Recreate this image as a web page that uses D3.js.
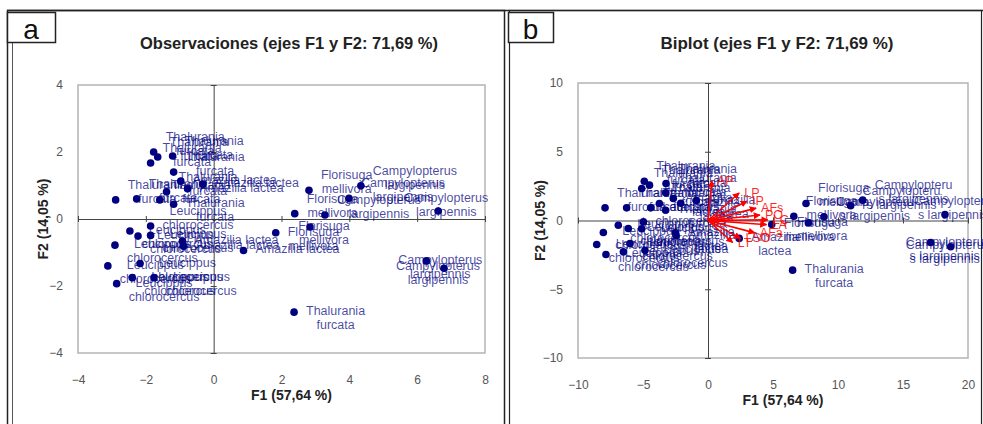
<!DOCTYPE html>
<html><head><meta charset="utf-8">
<script src="https://cdn.jsdelivr.net/npm/d3@7"></script>
<style>body{margin:0;background:#fff;} svg{display:block;font-family:Arial,"Liberation Sans",sans-serif;}</style>
</head><body><svg id="c" width="983" height="424"></svg>
<script>
// ---------- data ----------
const species = [
 "Thalurania furcata","Thalurania furcata","Thalurania furcata","Thalurania furcata","Thalurania furcata",
 "Amazilia lactea","Amazilia lactea","Amazilia lactea",
 "Thalurania furcata","Thalurania furcata","Thalurania furcata","Thalurania furcata","Thalurania furcata",
 "Leucippus chlorocercus","Leucippus chlorocercus","Leucippus chlorocercus","Leucippus chlorocercus","Leucippus chlorocercus",
 "Amazilia lactea","Amazilia lactea","Amazilia lactea",
 "Leucippus chlorocercus","Leucippus chlorocercus","Leucippus chlorocercus","Leucippus chlorocercus","Leucippus chlorocercus",
 "Florisuga mellivora","Florisuga mellivora",
 "Campylopterus largipennis","Campylopterus largipennis",
 "Florisuga mellivora","Campylopterus largipennis","Florisuga mellivora",
 "Campylopterus largipennis","Campylopterus largipennis","Campylopterus largipennis",
 "Thalurania furcata"
];
// panel a: observation scores
const f1A = [-2.89,-2.27,-1.59,-1.18,-1.39,-0.97,-0.77,-0.32,-1.18,-1.21,-1.86,-1.77,-1.65,
 -1.86,-2.47,-2.23,-1.86,-2.91,-0.92,-0.89,0.88,-3.12,-2.17,-2.40,-1.76,-2.86,
 1.83,2.81,4.34,3.99,2.39,3.28,2.84,6.62,6.27,6.79,2.37];
const f2A = [0.57,0.60,0.57,0.44,0.81,1.13,0.90,1.04,1.40,1.88,1.67,2.00,1.85,
 -0.21,-0.36,-0.51,-0.49,-0.78,-0.66,-0.81,-0.94,-1.40,-1.33,-1.75,-1.75,-1.93,
 -0.41,0.86,0.99,0.62,0.16,0.12,-0.24,0.24,-1.25,-1.47,-2.78];
// panel b: biplot scores
const f1B = [-7.92,-6.26,-4.41,-3.26,-3.74,-2.67,-2.10,-0.90,-3.25,-3.23,-5.10,-4.90,-4.50,
 -4.97,-6.90,-6.13,-5.10,-8.05,-2.50,-2.45,2.40,-8.56,-6.00,-6.51,-4.85,-7.85,
 4.90,7.54,11.90,10.97,6.60,8.92,7.72,18.23,17.13,18.67,6.51];
const f2B = [0.92,0.92,0.92,0.75,1.24,1.60,1.25,1.45,2.01,2.69,2.33,2.86,2.57,
 -0.10,-0.34,-0.58,-0.60,-0.87,-0.90,-1.10,-1.30,-1.75,-1.67,-2.28,-2.16,-2.47,
 -0.29,1.24,1.48,1.07,0.31,0.27,-0.17,0.44,-1.60,-1.91,-3.61];
const labelPlace = ["ne","ne","ne","e","ne","e","e","e","ne","ne","ne","ne","ne",
 "ne","e","e","e","e","e","e","e","e","e","e","e","e",
 "e","ne","ne","ne","ne","ne","c","n","c","cl","e"];
// variables (arrows)
const varNames = ["AP","LP","IP","AFs","PO","LC","LA","AFa","LSO","LT"];
const varF1 = [0.3,2.4,3.0,3.7,4.0,4.6,4.5,3.6,2.5,1.9];
const varF2 = [2.9,2.0,1.4,0.9,0.4,0.05,-0.3,-0.9,-1.3,-1.6];
const xTicksA = [-4,-2,0,2,4,6,8], yTicksA = [-4,-2,0,2,4];
const xTicksB = [-10,-5,0,5,10,15,20], yTicksB = [-10,-5,0,5,10];
const titleA = "Observaciones (ejes F1 y F2: 71,69 %)";
const titleB = "Biplot (ejes F1 y F2: 71,69 %)";
const xTitle = "F1 (57,64 %)", yTitle = "F2 (14,05 %)";
const panelLetters = ["a","b"];

// ---------- drawing ----------
const svg = d3.select("#c");
const LABEL_FONT = 12.5;
const ctx = document.createElement("canvas").getContext("2d");
ctx.font = LABEL_FONT + "px Arial";
const tw = s => ctx.measureText(s).width;

function wrap(text, maxW){
  const words = text.split(" "); const lines = []; let cur = "";
  for (let w of words){
    const cand = cur ? cur + " " + w : w;
    if (tw(cand) <= maxW){ cur = cand; continue; }
    if (cur){ lines.push(cur); cur = ""; }
    while (tw(w) > maxW){
      let k = w.length; while (k > 1 && tw(w.slice(0,k)) > maxW) k--;
      lines.push(w.slice(0,k)); w = w.slice(k);
    }
    cur = w;
  }
  if (cur) lines.push(cur);
  return lines;
}
const place = {
  e:  {dx: 12, dy0: 3,   mode: "left"},
  ne: {dx: 12, dy0: -11, mode: "left"},
  n:  {dx: 8,  dy0: -9,  mode: "center"},
  c:  {dx: 14, dy0: 3,   mode: "center"},
  cl: {dx: -6, dy0: 2,   mode: "center"}
};

// frames
svg.append("line").attr("x1",7).attr("x2",983).attr("y1",10.5).attr("y2",10.5).attr("stroke","#222").attr("stroke-width",1.5);
svg.append("rect").attr("x",7.5).attr("y",10.5).attr("width",497).attr("height",430).attr("fill","none").attr("stroke","#222").attr("stroke-width",1.5);
svg.append("rect").attr("x",509.5).attr("y",10.5).attr("width",472).attr("height",430).attr("fill","none").attr("stroke","#222").attr("stroke-width",1.2);
svg.append("line").attr("x1",12.5).attr("x2",12.5).attr("y1",42).attr("y2",424).attr("stroke","#555").attr("stroke-width",1);

function panel(cfg){
  const x = d3.scaleLinear().domain(cfg.xDom).range(cfg.xRange);
  const y = d3.scaleLinear().domain(cfg.yDom).range(cfg.yRange);
  const g = svg.append("g");
  // letter box
  g.append("rect").attr("x",cfg.box[0]+0.5).attr("y",12.5).attr("width",cfg.box[1]).attr("height",30)
    .attr("fill","#fff").attr("stroke","#222").attr("stroke-width",1.5);
  g.append("text").attr("x",cfg.box[0]+cfg.box[1]/2).attr("y",39).attr("text-anchor","middle")
    .attr("font-size",28).attr("fill","#111").text(cfg.letter);
  // title
  g.append("text").attr("x",cfg.titleX).attr("y",49).attr("text-anchor","middle")
    .attr("font-size",16.5).attr("font-weight","bold").attr("fill","#222")
    .attr("textLength",cfg.titleW).attr("lengthAdjust","spacingAndGlyphs").text(cfg.title);
  // plot box
  const [x0,x1] = cfg.xRange, [y0,y1] = [cfg.yRange[1], cfg.yRange[0]];
  g.append("rect").attr("x",x0).attr("y",y0).attr("width",x1-x0).attr("height",y1-y0)
    .attr("fill","none").attr("stroke","#b4b4b4").attr("stroke-width",1.5);
  // tick labels
  const ax = g.append("g").attr("transform",`translate(0,${y1})`)
    .call(d3.axisBottom(x).tickValues(cfg.xTicks).tickSize(0).tickPadding(22).tickFormat(d3.format("d")));
  const ay = g.append("g").attr("transform",`translate(${x0},0)`)
    .call(d3.axisLeft(y).tickValues(cfg.yTicks).tickSize(0).tickPadding(15).tickFormat(d3.format("d")));
  [ax,ay].forEach(a=>{ a.select(".domain").remove();
    a.selectAll("text").attr("font-size",12).attr("fill","#555").attr("font-family","Arial"); });
  // center axes with crossing ticks
  const cx = g.append("g").attr("transform",`translate(0,${y(0)})`)
    .call(d3.axisBottom(x).tickValues(cfg.xTicks).tickSize(6).tickSizeOuter(0).tickFormat(""));
  cx.selectAll(".tick line").attr("y1",-3).attr("y2",3);
  const cy = g.append("g").attr("transform",`translate(${x(0)},0)`)
    .call(d3.axisLeft(y).tickValues(cfg.yTicks).tickSize(6).tickSizeOuter(0).tickFormat(""));
  cy.selectAll(".tick line").attr("x1",-3).attr("x2",3);
  [cx,cy].forEach(a=>{ a.select(".domain").attr("stroke","#444"); a.selectAll(".tick line").attr("stroke","#444"); });
  // axis titles
  g.append("text").attr("x",(x0+x1)/2+10).attr("y",cfg.xTitleY).attr("text-anchor","middle")
    .attr("font-size",14).attr("font-weight","bold").attr("fill","#222").text(xTitle);
  g.append("text").attr("transform",`translate(${cfg.yTitleX},${(y0+y1)/2}) rotate(-90)`)
    .attr("text-anchor","middle").attr("font-size",14).attr("font-weight","bold").attr("fill","#222").text(yTitle);
  // points
  const data = species.map((s,i)=>({s, a:cfg.f1[i], b:cfg.f2[i], p:labelPlace[i]}));
  g.append("g").selectAll("circle").data(data).join("circle")
    .attr("cx",d=>x(d.a)).attr("cy",d=>y(d.b)).attr("r",3.8).attr("fill","#000080");
  // labels
  const lg = g.append("g").attr("font-size",LABEL_FONT).attr("fill","#000080").attr("fill-opacity",0.72);
  data.forEach(d=>{
    const lines = wrap(d.s, cfg.wrapW); const P = place[d.p];
    const bw = d3.max(lines, tw);
    const px = x(d.a), py = y(d.b);
    const c = P.mode === "left" ? px + P.dx + bw/2 : px + P.dx;
    const t = lg.append("text").attr("text-anchor","middle");
    lines.forEach((l,k)=> t.append("tspan").attr("x",c).attr("y",py + P.dy0 + k*14).text(l));
  });
  return {x,y,g};
}

panel({letter:panelLetters[0], box:[7,48], title:titleA, titleX:289, titleW:298,
  xDom:[-4,8], yDom:[-4,4], xRange:[78,485], yRange:[353,85], xTicks:xTicksA, yTicks:yTicksA,
  f1:f1A, f2:f2A, wrapW:90, xTitleY:400, yTitleX:48});
const pb = panel({letter:panelLetters[1], box:[508,45], title:titleB, titleX:777, titleW:233,
  xDom:[-10,20], yDom:[-10,10], xRange:[578,968], yRange:[358,83], xTicks:xTicksB, yTicks:yTicksB,
  f1:f1B, f2:f2B, wrapW:80, xTitleY:405, yTitleX:545});

// variable arrows on biplot
const defs = svg.append("defs");
defs.append("marker").attr("id","arr").attr("viewBox","0 0 10 10").attr("refX",9).attr("refY",5)
  .attr("markerWidth",7).attr("markerHeight",7).attr("markerUnits","userSpaceOnUse").attr("orient","auto")
  .append("path").attr("d","M0,0L10,5L0,10Z").attr("fill","#ff0000");
const vg = pb.g.append("g");
const vars = varNames.map((n,i)=>({n, a:varF1[i], b:varF2[i]}));
vg.selectAll("line").data(vars).join("line")
  .attr("x1",pb.x(0)).attr("y1",pb.y(0)).attr("x2",d=>pb.x(d.a)).attr("y2",d=>pb.y(d.b))
  .attr("stroke","#ff0000").attr("stroke-width",1.6).attr("marker-end","url(#arr)");
vg.selectAll("text").data(vars).join("text")
  .attr("x",d=>pb.x(d.a)+5).attr("y",d=>pb.y(d.b)+4).attr("font-size",LABEL_FONT)
  .attr("fill","#ff0000").attr("fill-opacity",0.85).text(d=>d.n);
</script></body></html>
